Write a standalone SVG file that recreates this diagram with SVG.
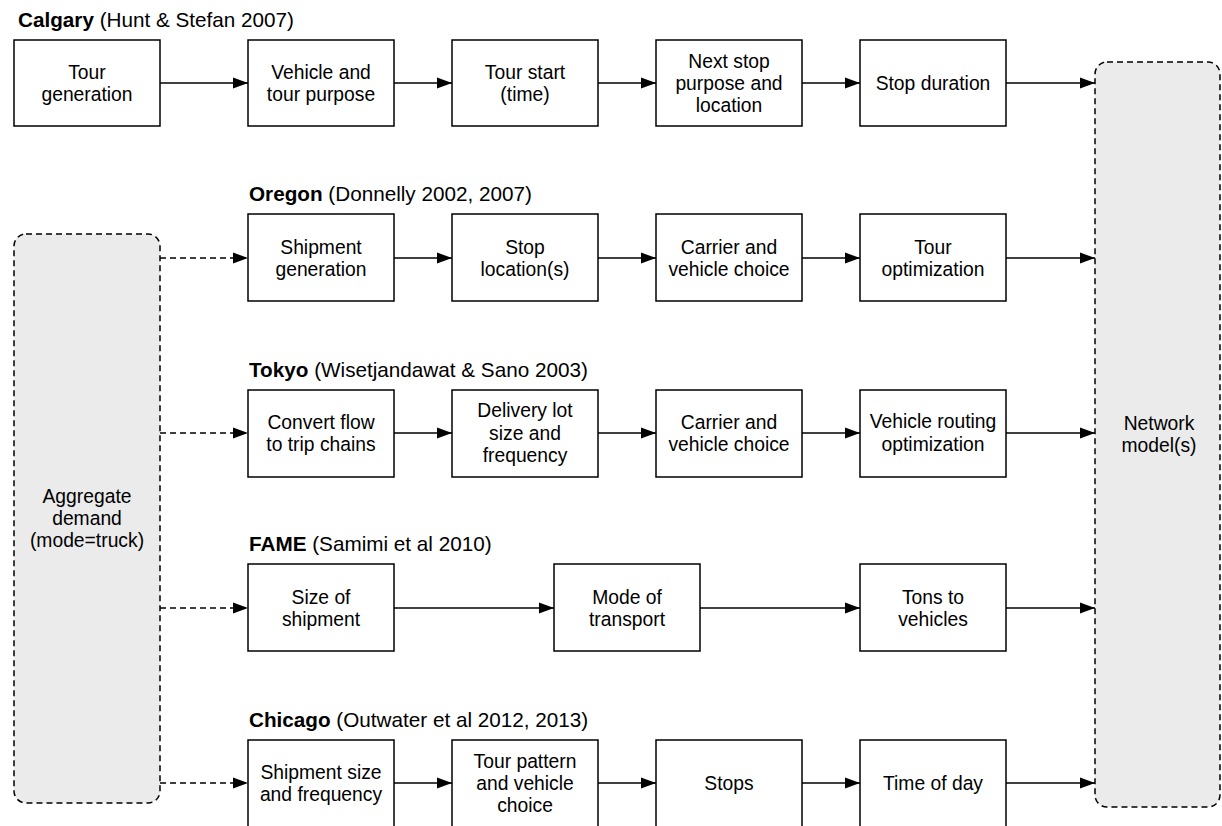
<svg xmlns="http://www.w3.org/2000/svg" width="1222" height="826" viewBox="0 0 1222 826">
<defs>
<marker id="ah" markerUnits="userSpaceOnUse" markerWidth="16" markerHeight="12" refX="15" refY="6" orient="auto">
<path d="M0,0.5 L15,6 L0,11.5 Z" fill="#000"/>
</marker>
<style>
.box{fill:#fff;stroke:#000;stroke-width:1.5}
.gbox{fill:#ebebeb;stroke:#000;stroke-width:1.5;stroke-dasharray:6 4}
.t{font-family:"Liberation Sans",Arial,Helvetica,sans-serif;font-size:19.3px;fill:#000;text-anchor:middle}
.h{font-family:"Liberation Sans",Arial,Helvetica,sans-serif;font-size:20.7px;fill:#000}
.h tspan.b{font-weight:bold}
.c{fill:none;stroke:#000;stroke-width:1.5;marker-end:url(#ah)}
.d{stroke-dasharray:6 4}
</style>
</defs>
<rect width="1222" height="826" fill="#fff"/>

<g id="labels">
<text class="h" x="18" y="27"><tspan class="b">Calgary</tspan> (Hunt &amp; Stefan 2007)</text>
<text class="h" x="249" y="201"><tspan class="b">Oregon</tspan> (Donnelly 2002, 2007)</text>
<text class="h" x="249" y="377"><tspan class="b">Tokyo</tspan> (Wisetjandawat &amp; Sano 2003)</text>
<text class="h" x="249" y="551"><tspan class="b">FAME</tspan> (Samimi et al 2010)</text>
<text class="h" x="249" y="727"><tspan class="b">Chicago</tspan> (Outwater et al 2012, 2013)</text>
</g>

<g id="connectors">
<line class="c" x1="160" y1="83" x2="248" y2="83"/>
<line class="c" x1="394" y1="83" x2="452" y2="83"/>
<line class="c" x1="598" y1="83" x2="656" y2="83"/>
<line class="c" x1="802" y1="83" x2="860" y2="83"/>
<line class="c" x1="1006" y1="83" x2="1095" y2="83"/>

<line class="c d" x1="160" y1="258" x2="248" y2="258"/>
<line class="c" x1="394" y1="258" x2="452" y2="258"/>
<line class="c" x1="598" y1="258" x2="656" y2="258"/>
<line class="c" x1="802" y1="258" x2="860" y2="258"/>
<line class="c" x1="1006" y1="258" x2="1095" y2="258"/>

<line class="c d" x1="160" y1="433" x2="248" y2="433"/>
<line class="c" x1="394" y1="433" x2="452" y2="433"/>
<line class="c" x1="598" y1="433" x2="656" y2="433"/>
<line class="c" x1="802" y1="433" x2="860" y2="433"/>
<line class="c" x1="1006" y1="433" x2="1095" y2="433"/>

<line class="c d" x1="160" y1="608" x2="248" y2="608"/>
<line class="c" x1="394" y1="608" x2="554" y2="608"/>
<line class="c" x1="700" y1="608" x2="860" y2="608"/>
<line class="c" x1="1006" y1="608" x2="1095" y2="608"/>

<line class="c d" x1="160" y1="783" x2="248" y2="783"/>
<line class="c" x1="394" y1="783" x2="452" y2="783"/>
<line class="c" x1="598" y1="783" x2="656" y2="783"/>
<line class="c" x1="802" y1="783" x2="860" y2="783"/>
<line class="c" x1="1006" y1="783" x2="1095" y2="783"/>
</g>

<g id="aggregate">
<rect class="gbox" x="14" y="234" width="146" height="569" rx="12"/>
<text class="t" x="87" y="503">Aggregate</text>
<text class="t" x="87" y="525">demand</text>
<text class="t" x="87" y="547">(mode=truck)</text>
</g>

<g id="network">
<rect class="gbox" x="1095" y="62" width="125" height="745" rx="12"/>
<text class="t" x="1159" y="430">Network</text>
<text class="t" x="1159" y="452">model(s)</text>
</g>

<g id="cal1"><rect class="box" x="14" y="40" width="146" height="86"/><text class="t" x="87" y="79">Tour</text><text class="t" x="87" y="101">generation</text></g>
<g id="cal2"><rect class="box" x="248" y="40" width="146" height="86"/><text class="t" x="321" y="79">Vehicle and</text><text class="t" x="321" y="101">tour purpose</text></g>
<g id="cal3"><rect class="box" x="452" y="40" width="146" height="86"/><text class="t" x="525" y="79">Tour start</text><text class="t" x="525" y="101">(time)</text></g>
<g id="cal4"><rect class="box" x="656" y="40" width="146" height="86"/><text class="t" x="729" y="68">Next stop</text><text class="t" x="729" y="90">purpose and</text><text class="t" x="729" y="112">location</text></g>
<g id="cal5"><rect class="box" x="860" y="40" width="146" height="86"/><text class="t" x="933" y="90">Stop duration</text></g>

<g id="ore1"><rect class="box" x="248" y="214" width="146" height="87"/><text class="t" x="321" y="254">Shipment</text><text class="t" x="321" y="276">generation</text></g>
<g id="ore2"><rect class="box" x="452" y="214" width="146" height="87"/><text class="t" x="525" y="254">Stop</text><text class="t" x="525" y="276">location(s)</text></g>
<g id="ore3"><rect class="box" x="656" y="214" width="146" height="87"/><text class="t" x="729" y="254">Carrier and</text><text class="t" x="729" y="276">vehicle choice</text></g>
<g id="ore4"><rect class="box" x="860" y="214" width="146" height="87"/><text class="t" x="933" y="254">Tour</text><text class="t" x="933" y="276">optimization</text></g>

<g id="tok1"><rect class="box" x="248" y="390" width="146" height="87"/><text class="t" x="321" y="429">Convert flow</text><text class="t" x="321" y="451">to trip chains</text></g>
<g id="tok2"><rect class="box" x="452" y="390" width="146" height="87"/><text class="t" x="525" y="417">Delivery lot</text><text class="t" x="525" y="439.5">size and</text><text class="t" x="525" y="462">frequency</text></g>
<g id="tok3"><rect class="box" x="656" y="390" width="146" height="87"/><text class="t" x="729" y="429">Carrier and</text><text class="t" x="729" y="451">vehicle choice</text></g>
<g id="tok4"><rect class="box" x="860" y="390" width="146" height="87"/><text class="t" x="933" y="428">Vehicle routing</text><text class="t" x="933" y="451">optimization</text></g>

<g id="fame1"><rect class="box" x="248" y="564" width="146" height="87"/><text class="t" x="321" y="604">Size of</text><text class="t" x="321" y="626">shipment</text></g>
<g id="fame2"><rect class="box" x="554" y="564" width="146" height="87"/><text class="t" x="627" y="604">Mode of</text><text class="t" x="627" y="626">transport</text></g>
<g id="fame3"><rect class="box" x="860" y="564" width="146" height="87"/><text class="t" x="933" y="604">Tons to</text><text class="t" x="933" y="626">vehicles</text></g>

<g id="chi1"><rect class="box" x="248" y="740" width="146" height="87"/><text class="t" x="321" y="779">Shipment size</text><text class="t" x="321" y="801">and frequency</text></g>
<g id="chi2"><rect class="box" x="452" y="740" width="146" height="87"/><text class="t" x="525" y="768">Tour pattern</text><text class="t" x="525" y="790">and vehicle</text><text class="t" x="525" y="812">choice</text></g>
<g id="chi3"><rect class="box" x="656" y="740" width="146" height="87"/><text class="t" x="729" y="790">Stops</text></g>
<g id="chi4"><rect class="box" x="860" y="740" width="146" height="87"/><text class="t" x="933" y="790">Time of day</text></g>
</svg>
